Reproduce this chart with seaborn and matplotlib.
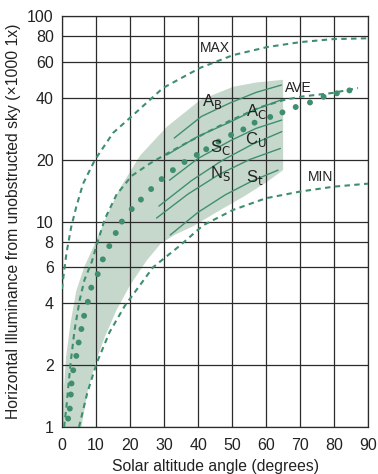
#importing libraries
import numpy as np
import pandas as pd
import seaborn as sns
import matplotlib.pyplot as plt

#data (solar altitude in degrees, illuminance in klx)
max_x = [0, 0.3, 1.3, 2.7, 4.2, 6.2, 9.7, 15, 20.9, 29.7, 40.6, 50.3, 60.3, 70, 79.7, 90]
max_y = [4.7, 5.2, 7.0, 9.4, 11.8, 15.3, 20, 27, 33, 44.7, 56, 64.6, 70.7, 74.7, 77.3, 78]

min_x = [5, 7.4, 10.2, 14, 18.5, 26.8, 34.5, 41.5, 50.3, 60, 70, 80, 90]
min_y = [1, 1.46, 2.05, 2.9, 3.9, 6.0, 7.6, 9.6, 11.4, 13.0, 14.0, 14.8, 15.3]

ave_x = [0.6, 1.3, 1.9, 2.6, 3.7, 5.2, 6.6, 8.8, 10.7, 12.6, 16, 20.5, 25.9, 30.8,
         36.7, 42.6, 49.4, 58.2, 65.1, 70, 79.7, 87]
ave_y = [1, 1.25, 1.6, 2.1, 2.97, 4.15, 5.2, 6.4, 8.2, 10.3, 13.5, 16.7, 19.2, 21.4,
         24.2, 27.2, 31, 36, 39, 40.5, 42.3, 44.7]

dot_x = [1.8, 2.3, 2.6, 2.8, 3.3, 4.2, 4.9, 5.7, 6.5, 7.6, 8.6, 10.5, 12.0, 13.9,
         15.8, 17.6, 20.5, 23.2, 26.2, 29.3, 32.6, 36.0, 39.6, 42.4, 46.0, 49.7,
         53.3, 56.6, 61.2, 64.8, 68.7, 72.9, 76.9, 80.8, 84.5]
dot_y = [1.10, 1.23, 1.44, 1.63, 1.89, 2.22, 2.58, 3.0, 3.48, 4.07, 4.77, 5.55, 6.55,
         7.6, 8.8, 10.0, 11.5, 12.8, 14.4, 16.1, 17.8, 19.5, 21.1, 22.5, 24.5, 26.4,
         28.1, 30.3, 32.3, 34.0, 36.1, 38.0, 40.5, 42.1, 43.5]

#shaded band: upper edge then lower edge
band_up_x = [0, 0.5, 1.2, 2.5, 4.2, 6.5, 9.2, 13, 17, 23, 30.8, 40.6, 50.3, 57, 65]
band_up_y = [1, 1.5, 2.2, 3.2, 4.6, 6, 7.5, 10.5, 14.5, 21, 28.9, 39, 45.3, 47.5, 49]
band_lo_x = [5.7, 7.6, 10.1, 12.6, 16, 20, 25, 29, 33, 38.6, 45, 53.3, 60, 65]
band_lo_y = [1, 1.51, 2.12, 2.75, 3.7, 4.9, 6.5, 7.8, 8.6, 9.5, 11, 13.2, 15.5, 17.8]

#cloud type lines
cloud_x = [[33, 41, 49.4, 57, 64.5],
           [30.8, 40, 49.4, 57, 64.6],
           [31.6, 40, 49.4, 57, 64.6],
           [28.5, 38, 47, 56, 64.6],
           [27.8, 37, 46, 55, 64.2],
           [31.8, 40, 48, 56, 63.5]]
cloud_y = [[25.5, 32.5, 37.8, 42.5, 46.2],
           [21.1, 26, 30.5, 35.2, 39.2],
           [15.9, 20.3, 24.7, 28.4, 31.2],
           [11.9, 15.8, 19.8, 23.8, 27.4],
           [10.4, 13.6, 16.9, 20.0, 22.7],
           [8.6, 11.1, 13.5, 15.8, 17.8]]

labels = ['A$_\\mathrm{B}$', 'A$_\\mathrm{C}$', 'S$_\\mathrm{C}$', 'C$_\\mathrm{U}$', 'N$_\\mathrm{S}$', 'S$_\\mathrm{t}$']
label_x = [41.3, 54.0, 43.4, 53.8, 43.6, 54.2]
label_y = [38.5, 34.5, 23.0, 25.2, 17.2, 16.3]

y_ticks = [1, 2, 4, 6, 8, 10, 20, 40, 60, 80, 100]
x_ticks = [0, 10, 20, 30, 40, 50, 60, 70, 80, 90]

green = '#3f8f6e'
band_col = '#c6d8cc'

sns.set_style('white')
plt.rcParams['font.family'] = ['Liberation Sans', 'DejaVu Sans']

fig = plt.figure(figsize=(3.78, 4.74), dpi=100)
ax = fig.add_axes([0.164, 0.099, 0.81, 0.867])
ax.set_yscale('log')

#band
poly_x = band_up_x + band_lo_x[::-1]
poly_y = band_up_y + band_lo_y[::-1]
ax.fill(poly_x, poly_y, color=band_col, lw=0, zorder=1)

#grid
for v in x_ticks:
    ax.axvline(v, color='#2b2b2b', lw=0.9, zorder=2)
for v in y_ticks:
    ax.axhline(v, color='#2b2b2b', lw=0.9, zorder=2)

dash = (0, (2.6, 2.1))
df_max = pd.DataFrame({'x': max_x, 'y': max_y})
df_min = pd.DataFrame({'x': min_x, 'y': min_y})
df_ave = pd.DataFrame({'x': ave_x, 'y': ave_y})
sns.lineplot(data=df_max, x='x', y='y', ax=ax, color=green, lw=1.5, linestyle=dash, sort=False, estimator=None, zorder=4)
sns.lineplot(data=df_min, x='x', y='y', ax=ax, color=green, lw=1.5, linestyle=dash, sort=False, estimator=None, zorder=4)
sns.lineplot(data=df_ave, x='x', y='y', ax=ax, color=green, lw=1.5, linestyle=dash, sort=False, estimator=None, zorder=4)

for cx, cy in zip(cloud_x, cloud_y):
    sns.lineplot(x=cx, y=cy, ax=ax, color=green, lw=1.0, sort=False, estimator=None, zorder=4)

sns.scatterplot(x=dot_x, y=dot_y, ax=ax, color=green, s=18, edgecolor='none', zorder=5)

#text
ax.text(40.4, 70, 'MAX', fontsize=10, va='center', ha='left', color='#222222', zorder=6)
ax.text(65.4, 44.5, 'AVE', fontsize=10, va='center', ha='left', color='#222222', zorder=6)
ax.text(72.2, 16.4, 'MIN', fontsize=10, va='center', ha='left', color='#222222', zorder=6)
for t, lx, ly in zip(labels, label_x, label_y):
    ax.text(lx, ly, t, fontsize=12, va='center', ha='left', color='#222222', zorder=6)

ax.set_xlim(0, 90)
ax.set_ylim(1, 100)
ax.set_xticks(x_ticks)
ax.set_xticklabels([str(v) for v in x_ticks])
ax.set_yticks(y_ticks)
ax.set_yticklabels([str(v) for v in y_ticks])
ax.minorticks_off()
ax.tick_params(length=0, labelsize=11.5, pad=6, colors='#222222')
ax.tick_params(axis='x', pad=8)
for s in ax.spines.values():
    s.set_color('#2b2b2b')
    s.set_linewidth(0.9)

ax.set_xlabel('Solar altitude angle (degrees)', fontsize=11.3, color='#222222', labelpad=4)
ax.set_ylabel('Horizontal Illuminance from unobstructed sky (\u00d71000 1x)', fontsize=11.3, color='#222222', labelpad=4)

plt.savefig('out.png', dpi=100)
